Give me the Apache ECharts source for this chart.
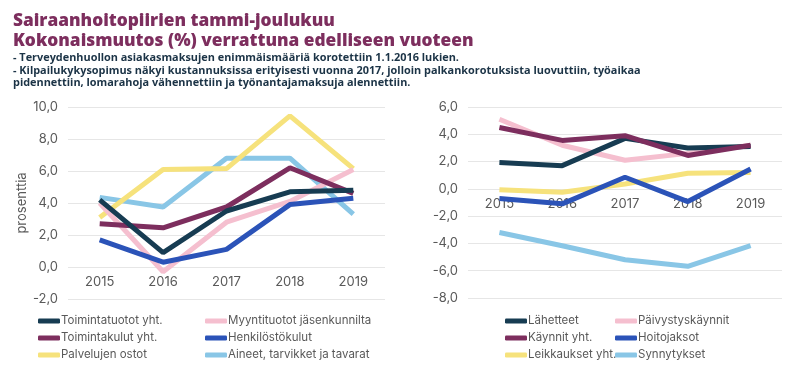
<!DOCTYPE html>
<html>
<head>
<meta charset="utf-8">
<script src="https://cdn.jsdelivr.net/npm/echarts@6/dist/echarts.min.js"></script>
<style>
  html, body { margin: 0; padding: 0; background: #fff; }
  #chart { width: 790px; height: 377px; }
</style>
</head>
<body>
<div id="chart"></div>
<script>
var years = ['2015', '2016', '2017', '2018', '2019'];

// vasen kuva: talous
var toimintatuotot = [4.2, 0.9, 3.5, 4.7, 4.8];
var myyntituotot = [4.0, -0.3, 2.8, 4.1, 6.1];
var toimintakulut = [2.7, 2.45, 3.75, 6.2, 4.6];
var henkilostokulut = [1.7, 0.3, 1.1, 3.9, 4.3];
var palvelujenOstot = [3.1, 6.1, 6.15, 9.45, 6.15];
var aineet = [4.35, 3.75, 6.8, 6.8, 3.3];

// oikea kuva: toiminta
var lahetteet = [1.93, 1.7, 3.7, 3.0, 3.1];
var paivystys = [5.1, 3.2, 2.1, 2.6, 3.2];
var kaynnit = [4.5, 3.55, 3.9, 2.45, 3.2];
var hoitojaksot = [-0.7, -1.1, 0.85, -0.93, 1.45];
var leikkaukset = [-0.07, -0.25, 0.35, 1.15, 1.2];
var synnytykset = [-3.2, -4.17, -5.2, -5.68, -4.17];

var navy = '#173c52', pink = '#f5bfcf', purple = '#7d2e5e',
    blue = '#2b53b8', yellow = '#f6e27c', lightblue = '#89c6e6';

var chart = echarts.init(document.getElementById('chart'));

function fmt(v) { return v.toFixed(1).replace('.', ','); }

function line(name, data, color, idx) {
    return {
        type: 'line',
        name: name,
        xAxisIndex: idx,
        yAxisIndex: idx,
        symbol: 'none',
        lineStyle: { width: 5, color: color },
        itemStyle: { color: color },
        data: data
    };
}

// x-akselin nimikkeet nollaviivan alle
function xAx(idx, offset) {
    return {
        type: 'category',
        gridIndex: idx,
        data: years,
        offset: offset,
        axisLine: { show: false },
        axisTick: { show: false },
        axisLabel: { color: '#595959', fontSize: 13, margin: 9, fontFamily: 'Inter' }
    };
}

function yAx(idx, min, max) {
    return {
        type: 'value',
        gridIndex: idx,
        min: min,
        max: max,
        interval: 2,
        splitLine: { lineStyle: { color: '#e6e6e6', width: 1 } },
        axisLine: { show: false },
        axisTick: { show: false },
        axisLabel: { color: '#595959', fontSize: 13, margin: 10, fontFamily: 'Inter', formatter: fmt }
    };
}

function leg(left, names) {
    return {
        left: left,
        top: 310,
        orient: 'vertical',
        itemWidth: 22,
        itemHeight: 5,
        itemGap: 5,
        icon: 'roundRect',
        textStyle: { color: '#595959', fontSize: 11.5, padding: [0, 0, 0, -4], fontFamily: 'Inter' },
        data: names
    };
}

chart.setOption({
    animation: false,
    title: [
        {
            text: 'Sairaanhoitopiirien tammi-joulukuu\nKokonaismuutos (%) verrattuna edelliseen vuoteen',
            left: 8,
            top: 6,
            textStyle: { color: '#7d2e5e', fontSize: 17.3, fontWeight: 800, lineHeight: 20, fontFamily: 'Open Sans' }
        },
        {
            text: '- Terveydenhuollon asiakasmaksujen enimmäismääriä korotettiin 1.1.2016 lukien.\n' +
                  '- Kilpailukykysopimus näkyi kustannuksissa erityisesti vuonna 2017, jolloin palkankorotuksista luovuttiin, työaikaa\n' +
                  'pidennettiin, lomarahoja vähennettiin ja työnantajamaksuja alennettiin.',
            left: 8,
            top: 47,
            textStyle: { color: '#1b3346', fontSize: 10.9, fontWeight: 'bold', lineHeight: 12.3, fontFamily: 'Open Sans' }
        }
    ],
    legend: [
        leg(33, ['Toimintatuotot yht.', 'Toimintakulut yht.', 'Palvelujen ostot']),
        leg(200, ['Myyntituotot jäsenkunnilta', 'Henkilöstökulut', 'Aineet, tarvikket ja tavarat']),
        leg(500, ['Lähetteet', 'Käynnit yht.', 'Leikkaukset yht.']),
        leg(610, ['Päivystyskäynnit', 'Hoitojaksot', 'Synnytykset'])
    ],
    grid: [
        { left: 68, right: 405, top: 107, bottom: 78 },
        { left: 468, right: 8, top: 107, bottom: 79 }
    ],
    xAxis: [xAx(0, -32), xAx(1, -109)],
    yAxis: [
        Object.assign(yAx(0, -2, 10), {
            name: 'prosenttia',
            nameLocation: 'middle',
            nameGap: 34,
            nameRotate: 90,
            nameTextStyle: { color: '#595959', fontSize: 13, fontFamily: 'Inter' }
        }),
        yAx(1, -8, 6)
    ],
    series: [
        line('Aineet, tarvikket ja tavarat', aineet, lightblue, 0),
        line('Palvelujen ostot', palvelujenOstot, yellow, 0),
        line('Myyntituotot jäsenkunnilta', myyntituotot, pink, 0),
        line('Henkilöstökulut', henkilostokulut, blue, 0),
        line('Toimintakulut yht.', toimintakulut, purple, 0),
        line('Toimintatuotot yht.', toimintatuotot, navy, 0),
        line('Synnytykset', synnytykset, lightblue, 1),
        line('Leikkaukset yht.', leikkaukset, yellow, 1),
        line('Hoitojaksot', hoitojaksot, blue, 1),
        line('Päivystyskäynnit', paivystys, pink, 1),
        line('Lähetteet', lahetteet, navy, 1),
        line('Käynnit yht.', kaynnit, purple, 1)
    ]
});
</script>
</body>
</html>
